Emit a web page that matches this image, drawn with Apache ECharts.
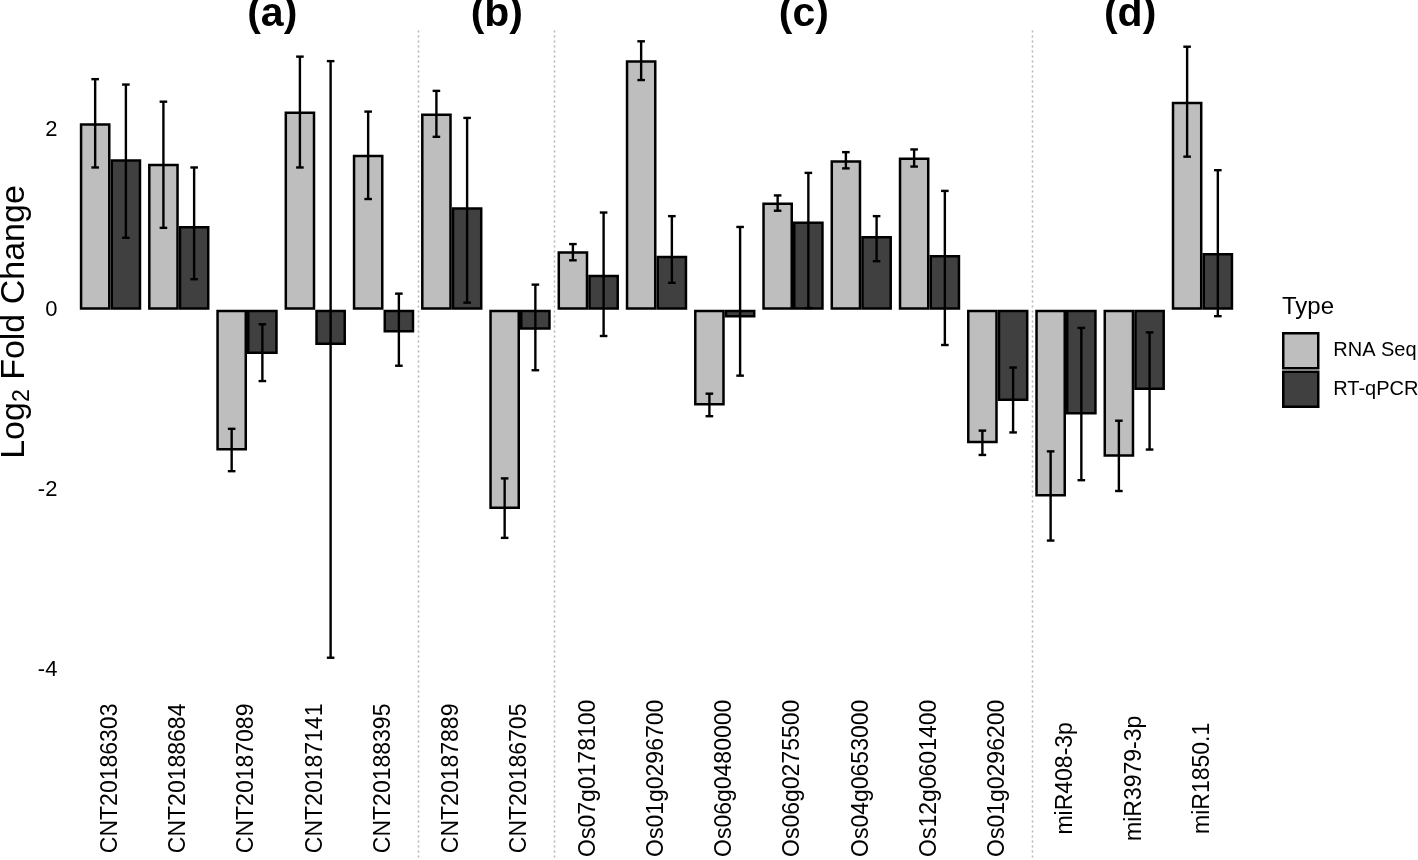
<!DOCTYPE html>
<html>
<head>
<meta charset="utf-8">
<script src="https://cdn.jsdelivr.net/npm/echarts@6/dist/echarts.min.js"></script>
<style>
html,body{margin:0;padding:0;background:#fff;}
#chart{width:1418px;height:860px;}
</style>
</head>
<body>
<div id="chart"></div>
<script>
// ---- data ----
const categories = ['CNT20186303','CNT20188684','CNT20187089','CNT20187141','CNT20188395',
  'CNT20187889','CNT20186705',
  'Os07g0178100','Os01g0296700','Os06g0480000','Os06g0275500','Os04g0653000','Os12g0601400','Os01g0296200',
  'miR408-3p','miR3979-3p','miR1850.1'];
const rnaSeq     = [2.07, 1.62, -1.56, 2.20, 1.72, 2.18, -2.21, 0.65, 2.77, -1.06, 1.19, 1.66, 1.69, -1.48, -2.07, -1.63, 2.31];
const rnaSeqLow  = [1.58, 0.91, -1.79, 1.58, 1.23, 1.92, -2.53, 0.55, 2.55, -1.18, 1.10, 1.57, 1.59, -1.61, -2.56, -2.01, 1.70];
const rnaSeqHigh = [2.56, 2.31, -1.32, 2.81, 2.20, 2.43, -1.87, 0.73, 2.98, -0.93, 1.27, 1.75, 1.78, -1.34, -1.57, -1.23, 2.92];
const qpcr       = [1.67, 0.93, -0.49, -0.39, -0.25, 1.14, -0.22, 0.39, 0.60, -0.085, 0.98, 0.82, 0.61, -1.01, -1.16, -0.89, 0.63];
const qpcrLow    = [0.80, 0.34, -0.79, -3.86, -0.62, 0.08, -0.67, -0.29, 0.30, -0.73, 0.02, 0.54, -0.39, -1.36, -1.89, -1.55, -0.07];
const qpcrHigh   = [2.50, 1.58, -0.16, 2.76, 0.18, 2.13, 0.28, 1.08, 1.04, 0.92, 1.52, 1.04, 1.32, -0.64, -0.20, -0.25, 1.55];
const groupLabels = ['(a)','(b)','(c)','(d)'];
const groupSizes  = [5, 2, 7, 3];
const seriesNames = ['RNA Seq','RT-qPCR'];
const yTicks = {min: -4, max: 3, interval: 2};

// ---- layout / style constants ----
const FONT = 'Liberation Sans, Arial, Helvetica, sans-serif';
const LIGHT = '#bebebe', DARK = '#404040';
const titleShift = [0.37, 0.16, 0.16, -0.06]; // category units

// group boundaries and centers derived from group sizes
const boundaries = [], centers = [];
let acc = 0;
groupSizes.forEach((n, i) => {
  centers.push(acc + (n - 1) / 2 + titleShift[i]);
  acc += n;
  if (i < groupSizes.length - 1) boundaries.push(acc - 0.5);
});

function xAt(api, f) {
  const i0 = Math.floor(f);
  const c0 = api.coord([i0, 0])[0];
  const band = api.size([1, 0])[0];
  return c0 + (f - i0) * band;
}

function errSeries(name, low, high, sign) {
  return {
    type: 'custom', name: name + ' err', z: 5, silent: true,
    data: low.map((v, i) => [i, v, high[i]]),
    encode: {x: 0, y: [1, 2]},
    renderItem: function (params, api) {
      const c = api.value(0);
      const lo = api.coord([c, api.value(1)]);
      const hi = api.coord([c, api.value(2)]);
      const band = api.size([1, 0])[0];
      const x = lo[0] + sign * band * 0.225;
      const w = 3.8;
      const st = {stroke: '#000', lineWidth: 2.4};
      return {type: 'group', children: [
        {type: 'line', shape: {x1: x, y1: lo[1], x2: x, y2: hi[1]}, style: st},
        {type: 'line', shape: {x1: x - w, y1: lo[1], x2: x + w, y2: lo[1]}, style: st},
        {type: 'line', shape: {x1: x - w, y1: hi[1], x2: x + w, y2: hi[1]}, style: st}
      ]};
    }
  };
}

const chart = echarts.init(document.getElementById('chart'), null, {renderer: 'canvas'});
chart.setOption({
  animation: false,
  backgroundColor: '#fff',
  grid: {left: 76.4, right: 181.4, top: 39.5, bottom: 187},
  legend: {
    orient: 'vertical', left: 1277, top: 327, padding: 5,
    itemWidth: 35, itemHeight: 35, itemGap: 1,
    icon: 'rect',
    data: seriesNames,
    itemStyle: {borderWidth: 2.5},
    textStyle: {fontFamily: FONT, fontSize: 20, color: '#000', padding: [0, 0, 0, 10]}
  },
  xAxis: {
    type: 'category', data: categories,
    axisLine: {show: false}, axisTick: {show: false}, splitLine: {show: false},
    axisLabel: {rotate: 90, interval: 0, fontFamily: FONT, fontSize: 23, color: '#000',
      align: 'center', verticalAlign: 'middle', margin: 108}
  },
  yAxis: {
    type: 'value', min: yTicks.min, max: yTicks.max, interval: yTicks.interval,
    axisLine: {show: false}, axisTick: {show: false}, splitLine: {show: false},
    axisLabel: {fontFamily: FONT, fontSize: 22, color: '#000', margin: 19, showMaxLabel: false}
  },
  graphic: [
    {type: 'text', x: 15, y: 322, rotation: Math.PI / 2,
      style: {text: '{m|Log}{s|2}{m| Fold Change}', align: 'center', verticalAlign: 'middle',
        rich: {m: {fontFamily: FONT, fontSize: 34, fill: '#000'},
               s: {fontFamily: FONT, fontSize: 23, fill: '#000', padding: [15, 0, 0, 0]}}}},
    {type: 'text', x: 1282, y: 307,
      style: {text: 'Type', fontFamily: FONT, fontSize: 24, fill: '#000', align: 'left', verticalAlign: 'middle'}}
  ],
  series: [
    {
      type: 'custom', name: 'separators', z: 0, silent: true,
      data: boundaries.map((b, i) => [Math.floor(b), 0]),
      encode: {x: 0, y: 1},
      renderItem: function (params, api) {
        const x = Math.round(xAt(api, boundaries[params.dataIndex])) + 0.5;
        const yTop = api.coord([0, 3.1])[1];
        return {type: 'line', shape: {x1: x, y1: yTop, x2: x, y2: api.getHeight()},
          style: {stroke: '#b4b4b4', lineWidth: 1.5, lineDash: [2, 3]}};
      }
    },
    {
      type: 'custom', name: 'groupTitles', z: 0, silent: true,
      data: centers.map((c) => [Math.floor(c), 0]),
      encode: {x: 0, y: 1},
      renderItem: function (params, api) {
        const x = xAt(api, centers[params.dataIndex]);
        return {type: 'text', x: x, y: 15,
          style: {text: groupLabels[params.dataIndex], fontFamily: FONT, fontWeight: 'bold',
            fontSize: 41, fill: '#000', align: 'center', verticalAlign: 'middle'}};
      }
    },
    {
      type: 'bar', name: seriesNames[0], data: rnaSeq, barWidth: '45%', barGap: '0%', z: 2,
      itemStyle: {color: LIGHT, borderColor: '#000', borderWidth: 2.5}
    },
    {
      type: 'bar', name: seriesNames[1], data: qpcr, barWidth: '45%', barGap: '0%', z: 2,
      itemStyle: {color: DARK, borderColor: '#000', borderWidth: 2.5}
    },
    errSeries(seriesNames[0], rnaSeqLow, rnaSeqHigh, -1),
    errSeries(seriesNames[1], qpcrLow, qpcrHigh, 1)
  ]
});
</script>
</body>
</html>
